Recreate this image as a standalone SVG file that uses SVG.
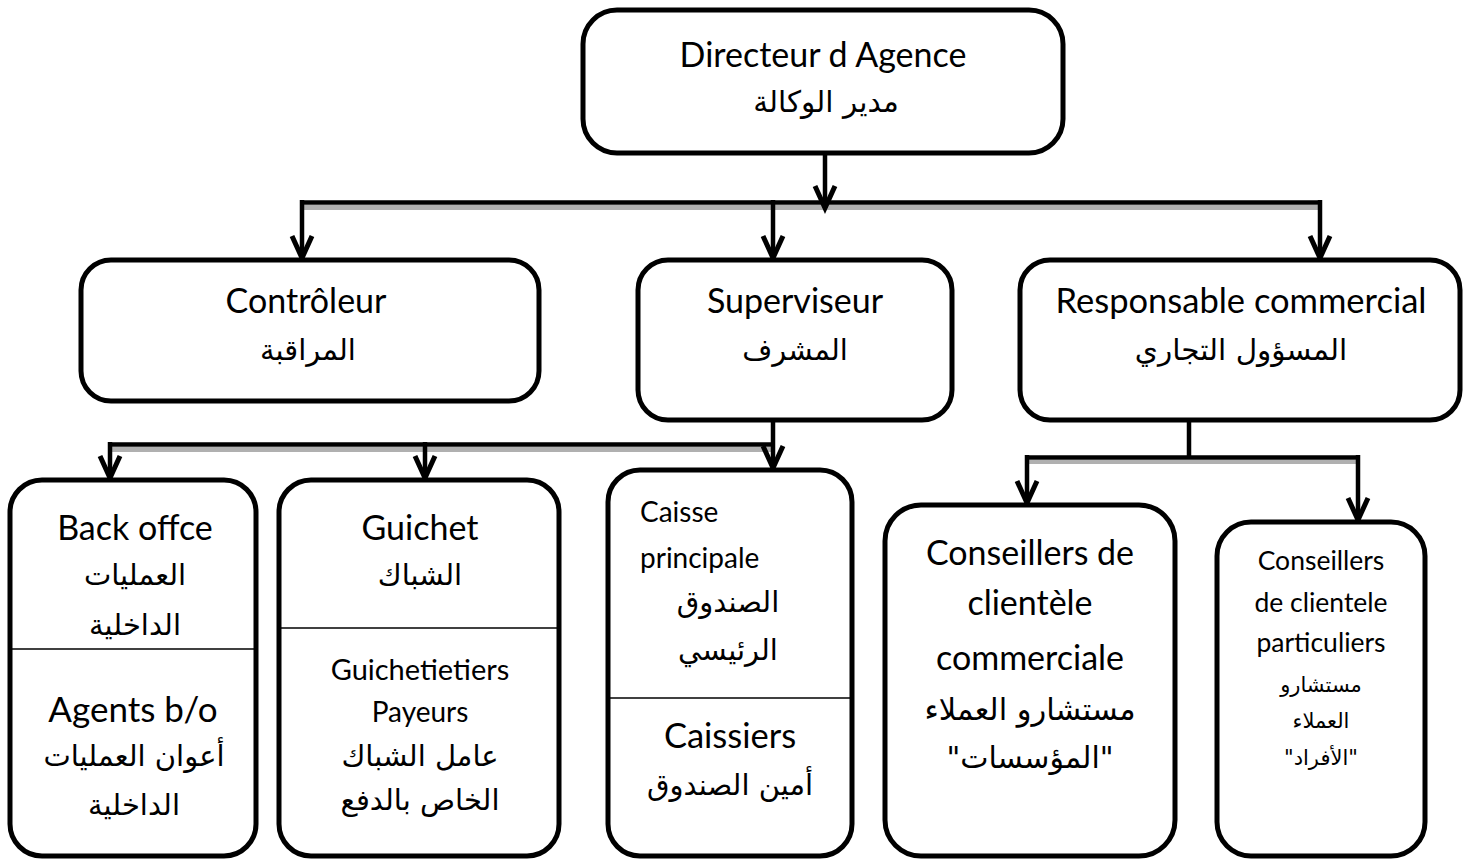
<svg xmlns="http://www.w3.org/2000/svg" width="1468" height="859" viewBox="0 0 1468 859">
  <defs>
    <style>
      .box { fill: #fff; stroke: #000; stroke-width: 5; }
      .div { stroke: #000; stroke-width: 1.6; }
      .wire { stroke: #000; stroke-width: 4.5; fill: none; }
      .shade { fill: #b0b0b0; }
      .lat { font-family: Lato, "Open Sans", "DejaVu Sans", sans-serif; fill: #000; text-anchor: middle; }
      .lat-l { font-family: Lato, "Open Sans", "DejaVu Sans", sans-serif; fill: #000; text-anchor: start; }
      .ar { font-family: "DejaVu Sans", sans-serif; fill: #000; text-anchor: middle; }
    </style>
    <!-- open V arrowhead; path direction is +x -->
    <marker id="vee" markerUnits="userSpaceOnUse" markerWidth="30" markerHeight="30" viewBox="-26 -15 30 30" refX="0" refY="0" orient="auto" overflow="visible">
      <path d="M-22,-10 L0,0 L-22,10" fill="none" stroke="#000" stroke-width="5" stroke-linejoin="miter"/>
    </marker>
  </defs>

  <!-- connectors -->
  <g id="connectors">
    <!-- director to second level -->
    <rect class="shade" x="302" y="205" width="1020" height="5"/>
    <path class="wire" d="M300,202.5 H1322"/>
    <path class="wire" d="M825,153 V208" marker-end="url(#vee)"/>
    <path class="wire" d="M302,200 V258" marker-end="url(#vee)"/>
    <path class="wire" d="M773,200 V258" marker-end="url(#vee)"/>
    <path class="wire" d="M1320,200 V258" marker-end="url(#vee)"/>
    <!-- supervisor to counters -->
    <rect class="shade" x="110" y="447" width="663" height="5"/>
    <path class="wire" d="M108,444.5 H775"/>
    <path class="wire" d="M773,420 V468" marker-end="url(#vee)"/>
    <path class="wire" d="M110,442 V478" marker-end="url(#vee)"/>
    <path class="wire" d="M425,442 V478" marker-end="url(#vee)"/>
    <!-- commercial to advisers -->
    <rect class="shade" x="1027" y="460" width="331" height="4"/>
    <path class="wire" d="M1025,457.5 H1360"/>
    <path class="wire" d="M1189,420 V457"/>
    <path class="wire" d="M1027,455 V503" marker-end="url(#vee)"/>
    <path class="wire" d="M1358,455 V520" marker-end="url(#vee)"/>
  </g>

  <g id="directeur">
    <rect class="box" x="583" y="10" width="480" height="143" rx="34"/>
    <text class="lat" x="823" y="67" font-size="34">Directeur d Agence</text>
    <text class="ar" x="826" y="112" font-size="29.5">مدير الوكالة</text>
  </g>

  <g id="controleur">
    <rect class="box" x="81" y="260" width="458" height="141" rx="30"/>
    <text class="lat" x="306" y="313" font-size="34">Contrôleur</text>
    <text class="ar" x="308" y="360" font-size="29">المراقبة</text>
  </g>

  <g id="superviseur">
    <rect class="box" x="638" y="260" width="314" height="160" rx="30"/>
    <text class="lat" x="795" y="313" font-size="34">Superviseur</text>
    <text class="ar" x="795" y="360" font-size="29">المشرف</text>
  </g>

  <g id="responsable">
    <rect class="box" x="1020" y="260" width="440" height="160" rx="30"/>
    <text class="lat" x="1241" y="313" font-size="34.5">Responsable commercial</text>
    <text class="ar" x="1241" y="360" font-size="29.5">المسؤول التجاري</text>
  </g>

  <g id="back-office">
    <rect class="box" x="10" y="480" width="246" height="376" rx="32"/>
    <line class="div" x1="12" y1="649" x2="254" y2="649"/>
    <text class="lat" x="135" y="540" font-size="34">Back offce</text>
    <text class="ar" x="135" y="585" font-size="29">العمليات</text>
    <text class="ar" x="135" y="635" font-size="29">الداخلية</text>
    <text class="lat" x="133" y="722" font-size="35">Agents b/o</text>
    <text class="ar" x="134" y="766" font-size="29">أعوان العمليات</text>
    <text class="ar" x="134" y="815" font-size="29">الداخلية</text>
  </g>

  <g id="guichet">
    <rect class="box" x="279" y="480" width="280" height="376" rx="32"/>
    <line class="div" x1="281" y1="628" x2="557" y2="628"/>
    <text class="lat" x="420" y="540" font-size="34">Guichet</text>
    <text class="ar" x="420" y="585" font-size="29">الشباك</text>
    <text class="lat" x="420" y="680" font-size="29">Guichetietiers</text>
    <text class="lat" x="420" y="722" font-size="28">Payeurs</text>
    <text class="ar" x="420" y="766" font-size="29">عامل الشباك</text>
    <text class="ar" x="420" y="810" font-size="29">الخاص بالدفع</text>
  </g>

  <g id="caisse">
    <rect class="box" x="608" y="470" width="244" height="386" rx="32"/>
    <line class="div" x1="610" y1="698" x2="850" y2="698"/>
    <text class="lat-l" x="640" y="522" font-size="28">Caisse</text>
    <text class="lat-l" x="640" y="568" font-size="28">principale</text>
    <text class="ar" x="728" y="612" font-size="29">الصندوق</text>
    <text class="ar" x="728" y="660" font-size="29">الرئيسي</text>
    <text class="lat" x="730" y="748" font-size="34.5">Caissiers</text>
    <text class="ar" x="730" y="795" font-size="29">أمين الصندوق</text>
  </g>

  <g id="conseillers-commerciale">
    <rect class="box" x="885" y="505" width="290" height="351" rx="36"/>
    <text class="lat" x="1030" y="565" font-size="34">Conseillers de</text>
    <text class="lat" x="1030" y="615" font-size="34">clientèle</text>
    <text class="lat" x="1030" y="670" font-size="34">commerciale</text>
    <text class="ar" x="1030" y="720" font-size="30.5">مستشارو العملاء</text>
    <text class="ar" x="1030" y="768" font-size="30">"المؤسسات"</text>
  </g>

  <g id="conseillers-particuliers">
    <rect class="box" x="1217" y="522" width="208" height="334" rx="34"/>
    <text class="lat" x="1321" y="570" font-size="26.5">Conseillers</text>
    <text class="lat" x="1321" y="612" font-size="26.5">de clientele</text>
    <text class="lat" x="1321" y="652" font-size="26.5">particuliers</text>
    <text class="ar" x="1321" y="692" font-size="21">مستشارو</text>
    <text class="ar" x="1321" y="728" font-size="21">العملاء</text>
    <text class="ar" x="1321" y="765" font-size="21">"الأفراد"</text>
  </g>
</svg>
